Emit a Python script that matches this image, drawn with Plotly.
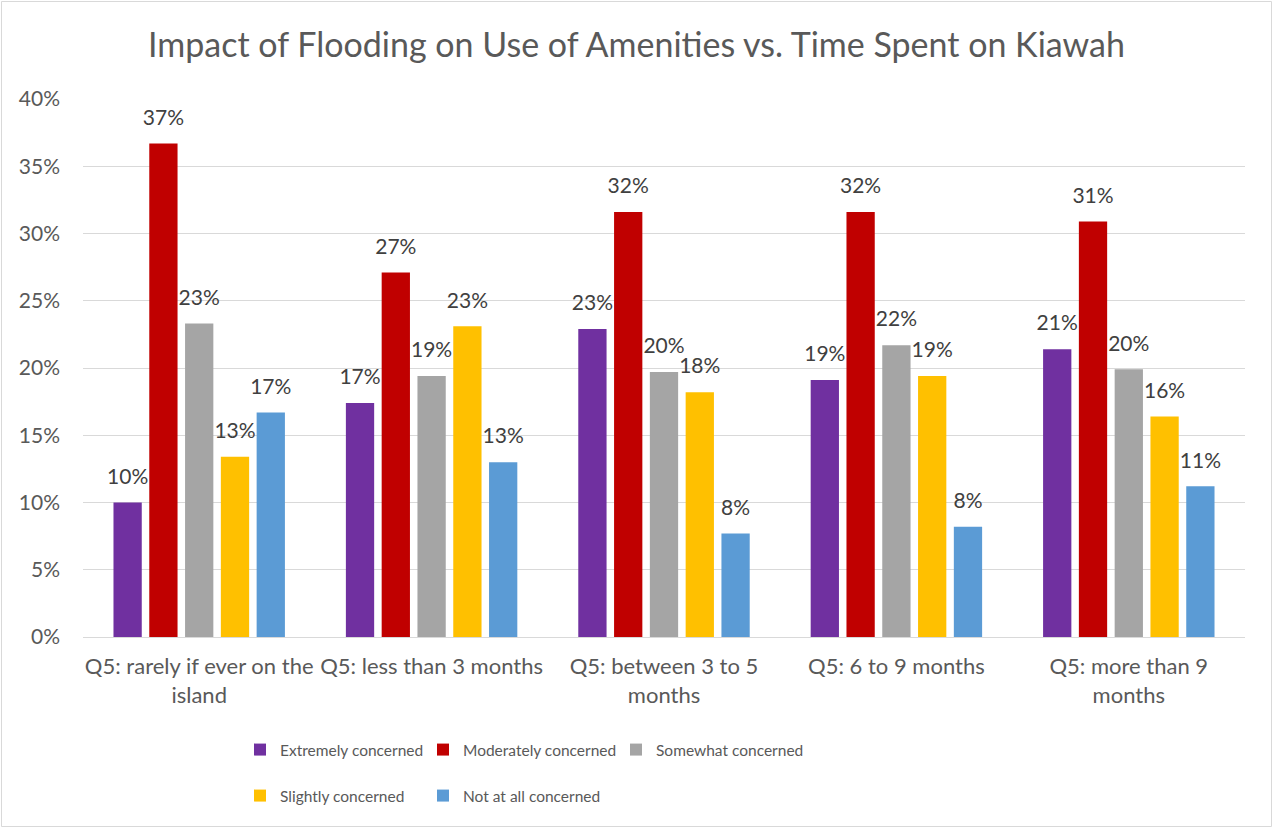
import plotly.graph_objects as go

# Survey groups (time spent on the island) and share of respondents per concern level
categories = [
    "Q5: rarely if ever on the<br>island",
    "Q5: less than 3 months",
    "Q5: between 3 to 5<br>months",
    "Q5: 6 to 9 months",
    "Q5: more than 9<br>months",
]
extremely = [0.100, 0.174, 0.229, 0.191, 0.214]
moderately = [0.367, 0.271, 0.316, 0.316, 0.309]
somewhat = [0.233, 0.194, 0.197, 0.217, 0.199]
slightly = [0.134, 0.231, 0.182, 0.194, 0.164]
not_at_all = [0.167, 0.130, 0.077, 0.082, 0.112]

y_ticks = [0, 0.05, 0.10, 0.15, 0.20, 0.25, 0.30, 0.35, 0.40]

# name, values, colour, legend row, legend entry width
series = [
    ("Extremely concerned", extremely, "#7030A0", "legend", 138),
    ("Moderately concerned", moderately, "#C00000", "legend", 148),
    ("Somewhat concerned", somewhat, "#A5A5A5", "legend", 150),
    ("Slightly concerned", slightly, "#FFC000", "legend2", 138),
    ("Not at all concerned", not_at_all, "#5B9BD5", "legend2", 150),
]

FONT = "Lato, Calibri, sans-serif"
W, H = 1273, 828
ML, MR, MT, MB = 83, 28, 99, 191
PW, PH = W - ML - MR, H - MT - MB
GAP = 0.23

fig = go.Figure()
for name, vals, color, leg, lw in series:
    fig.add_trace(go.Bar(
        name=name,
        x=categories,
        y=vals,
        marker=dict(color=color, line=dict(width=0)),
        legend=leg,
        legendwidth=lw,
        hoverinfo="skip",
    ))

# Value labels above each bar, grouped the same way as the bars
for name, vals, color, leg, lw in series:
    fig.add_trace(go.Scatter(
        x=categories,
        y=vals,
        mode="markers+text",
        marker=dict(size=20, opacity=0),
        text=[f"{v:.0%}" for v in vals],
        textposition="top center",
        textfont=dict(family=FONT, size=21, color="#404040"),
        cliponaxis=False,
        showlegend=False,
        hoverinfo="skip",
    ))

legend_common = dict(
    orientation="h",
    xref="paper",
    yref="paper",
    xanchor="left",
    yanchor="middle",
    font=dict(family=FONT, size=15.5, color="#595959"),
    entrywidthmode="pixels",
    bgcolor="rgba(0,0,0,0)",
    itemclick=False,
)

LEG_X = (240 - ML) / PW

fig.update_layout(
    width=W,
    height=H,
    margin=dict(l=ML, r=MR, t=MT, b=MB),
    paper_bgcolor="white",
    plot_bgcolor="white",
    barmode="group",
    bargap=GAP,
    bargroupgap=0.21,
    scattermode="group",
    scattergap=GAP,
    title=dict(
        text="Impact of Flooding on Use of Amenities vs. Time Spent on Kiawah",
        x=0.5,
        xanchor="center",
        y=1 - 45 / H,
        yanchor="middle",
        font=dict(family=FONT, size=34, color="#595959"),
    ),
    xaxis=dict(
        showgrid=False,
        showline=True,
        linecolor="#D9D9D9",
        linewidth=1,
        ticks="",
        tickfont=dict(family=FONT, size=22, color="#595959"),
        ticklabelstandoff=10,
    ),
    yaxis=dict(
        range=[0, 0.40],
        tickvals=y_ticks,
        tickformat=".0%",
        showgrid=True,
        gridcolor="#D9D9D9",
        gridwidth=1,
        zeroline=False,
        showline=False,
        ticks="",
        tickfont=dict(family=FONT, size=21, color="#595959"),
        ticklabelstandoff=22,
    ),
    legend=dict(legend_common, x=LEG_X, y=-(750 - (H - MB)) / PH),
    legend2=dict(legend_common, x=LEG_X, y=-(796 - (H - MB)) / PH),
    showlegend=True,
)

# Thin border around the whole chart area
fig.add_shape(
    type="rect",
    xref="paper", yref="paper",
    x0=-(ML - 1.5) / PW, x1=1 + (MR - 1.5) / PW,
    y0=-(MB - 1.5) / PH, y1=1 + (MT - 1.5) / PH,
    line=dict(color="#D9D9D9", width=1),
    fillcolor="rgba(0,0,0,0)",
    layer="below",
)

fig.write_html("out.html")
